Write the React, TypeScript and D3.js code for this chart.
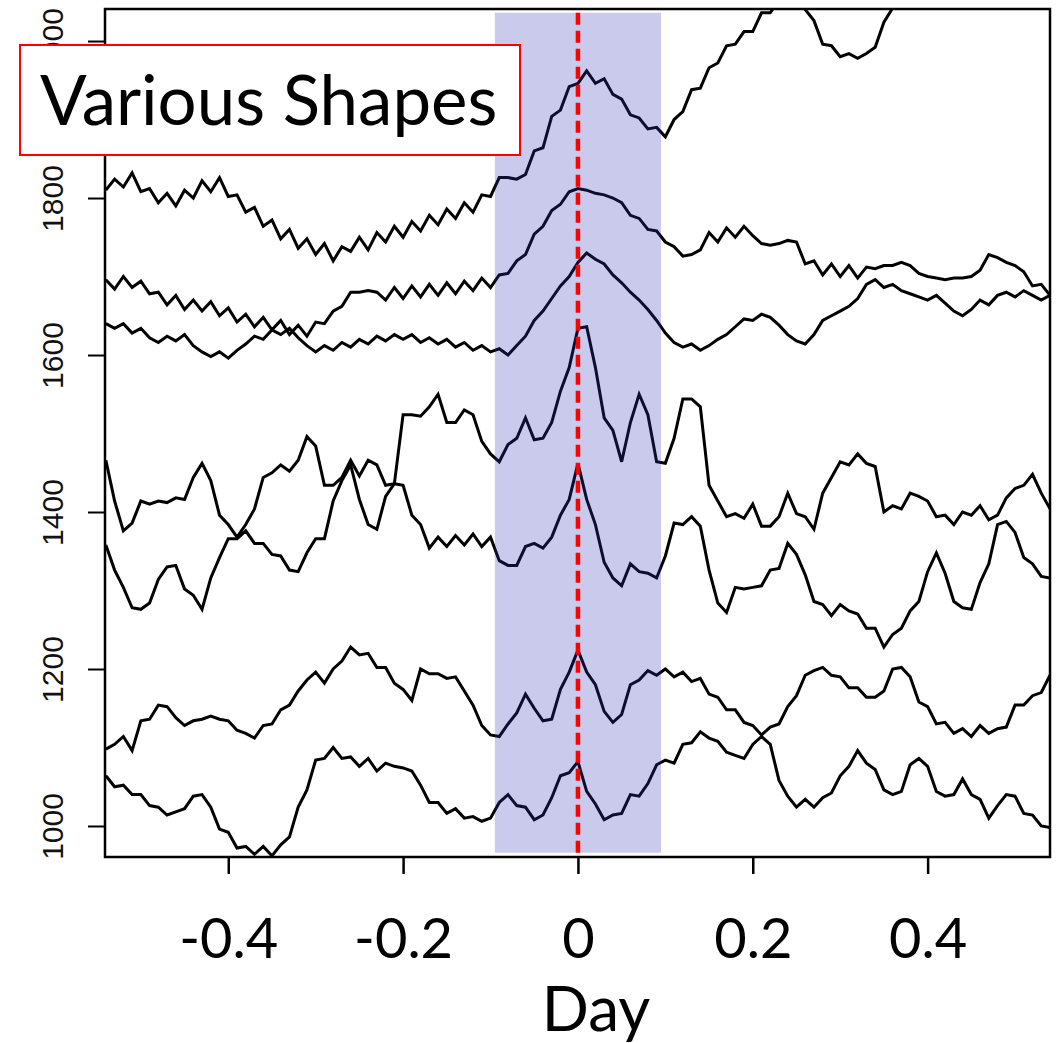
import React, { useRef, useEffect } from 'react';
import { select, scaleLinear, axisLeft, axisBottom, line, range } from 'd3';

// sampling grid of the traces (days)
const dayStart = -0.54;
const dayStep = 0.01;
const dayCount = 109;

// traces (top to bottom at day 0)
const seriesA = [1810,1824,1814,1832,1808,1812,1794,1806,1790,1810,1800,1822,1808,1826,1802,1804,1782,1788,1764,1772,1748,1760,1736,1748,1728,1742,1720,1738,1732,1750,1734,1756,1744,1764,1750,1770,1758,1778,1766,1786,1774,1794,1782,1804,1802,1826,1826,1824,1830,1860,1864,1904,1912,1942,1946,1962,1946,1952,1932,1926,1906,1902,1888,1890,1878,1900,1910,1938,1940,1966,1972,1994,1996,2012,2012,2036,2036,2052,2048,2054,2040,2026,1996,1994,1980,1984,1978,1984,1992,2024,2042,2074,null,null,null,null,null,null,null,null,null,null,null,null,null,null,null,null,null];
const seriesB = [1696,1684,1700,1686,1694,1678,1680,1664,1676,1658,1670,1656,1668,1650,1660,1642,1652,1636,1648,1632,1644,1626,1638,1624,1642,1640,1656,1662,1680,1680,1682,1680,1670,1686,1672,1688,1674,1690,1676,1692,1678,1694,1682,1698,1686,1702,1704,1720,1728,1754,1764,1784,1792,1808,1812,1810,1806,1804,1800,1794,1778,1774,1760,1758,1744,1738,1726,1728,1734,1756,1744,1762,1750,1764,1752,1742,1740,1742,1746,1744,1716,1720,1702,1716,1700,1714,1698,1712,1710,1714,1714,1718,1714,1704,1700,1698,1696,1698,1698,1700,1708,1728,1724,1718,1714,1706,1688,1690,1676];
const seriesC = [1640,1634,1640,1628,1634,1622,1616,1624,1618,1626,1612,1604,1598,1604,1596,1606,1614,1624,1620,1632,1626,1634,1622,1612,1604,1612,1606,1616,1610,1620,1614,1624,1618,1626,1620,1626,1616,1622,1614,1620,1610,1616,1606,1612,1604,1608,1600,1612,1624,1644,1656,1672,1688,1700,1718,1730,1722,1716,1702,1692,1680,1670,1658,1644,1628,1616,1610,1614,1606,1612,1620,1626,1636,1646,1644,1652,1648,1638,1626,1618,1614,1626,1644,1650,1656,1662,1672,1690,1696,1686,1690,1682,1678,1674,1670,1676,1666,1656,1650,1658,1670,1664,1676,1680,1674,1682,1676,1670,1676];
const seriesD = [1466,1414,1376,1386,1414,1410,1414,1412,1418,1416,1444,1462,1440,1396,1384,1368,1384,1404,1444,1450,1460,1452,1466,1496,1484,1434,1434,1444,1466,1446,1466,1460,1434,1436,1524,1524,1522,1534,1550,1514,1514,1530,1524,1490,1474,1464,1486,1494,1520,1492,1494,1514,1554,1584,1634,1636,1584,1520,1504,1464,1514,1550,1524,1464,1462,1494,1544,1544,1534,1434,1414,1394,1398,1392,1410,1382,1382,1394,1424,1398,1394,1378,1424,1444,1464,1460,1474,1462,1458,1400,1408,1404,1424,1420,1414,1394,1396,1384,1400,1396,1408,1390,1396,1418,1430,1434,1448,1424,1404];
const seriesE = [1358,1326,1304,1278,1276,1284,1314,1330,1332,1302,1294,1276,1316,1342,1366,1366,1376,1360,1360,1346,1344,1326,1324,1348,1366,1366,1414,1440,1460,1416,1384,1378,1420,1436,1434,1396,1384,1354,1368,1356,1370,1358,1372,1356,1368,1338,1332,1332,1356,1360,1354,1368,1396,1416,1462,1416,1384,1336,1316,1306,1334,1324,1322,1316,1344,1386,1384,1394,1382,1326,1284,1272,1304,1302,1304,1306,1326,1328,1360,1346,1320,1286,1282,1268,1282,1274,1270,1252,1252,1228,1244,1252,1274,1286,1324,1348,1322,1286,1278,1276,1310,1334,1384,1388,1374,1342,1334,1318,1316];
const seriesF = [1098,1104,1114,1096,1134,1136,1154,1152,1138,1128,1134,1136,1140,1136,1134,1122,1118,1112,1128,1130,1148,1154,1172,1186,1196,1182,1200,1210,1228,1218,1220,1202,1202,1182,1174,1160,1200,1194,1194,1188,1190,1172,1154,1128,1116,1114,1130,1144,1168,1150,1134,1136,1174,1196,1224,1196,1180,1146,1132,1142,1180,1186,1198,1192,1200,1190,1196,1184,1188,1168,1164,1148,1148,1132,1128,1116,1126,1130,1152,1166,1192,1198,1202,1192,1190,1176,1176,1164,1164,1172,1200,1202,1190,1158,1152,1130,1132,1118,1124,1114,1128,1118,1124,1126,1154,1154,1166,1170,1192];
const seriesG = [1064,1050,1052,1040,1040,1026,1024,1014,1018,1022,1038,1040,1024,996,992,972,974,964,974,962,976,986,1024,1046,1084,1086,1100,1086,1088,1076,1086,1070,1080,1076,1074,1070,1052,1030,1030,1016,1022,1010,1012,1006,1010,1030,1040,1026,1024,1008,1014,1036,1064,1068,1082,1044,1028,1008,1014,1016,1040,1038,1054,1078,1084,1080,1104,1106,1120,1112,1108,1094,1090,1086,1104,1114,1104,1058,1038,1024,1034,1024,1036,1042,1064,1076,1096,1080,1072,1046,1040,1044,1078,1086,1076,1044,1038,1040,1060,1040,1034,1010,1026,1040,1038,1016,1014,1000,998];

const yTicks = [1000, 1200, 1400, 1600, 1800, 2000];
const xTicks = [-0.4, -0.2, 0, 0.2, 0.4];
const xTickLabels = ['-0.4', '-0.2', '0', '0.2', '0.4'];
const shadeDays = [-0.095, 0.095];
const shadeValues = [966, 2036];
const eventDay = 0;
const titleText = 'Various Shapes';
const xTitle = 'Day';

const width = 1061;
const height = 1043;
const margin = { top: 9, right: 11, bottom: 186, left: 105 };

const App = () => {
  const svgRef = useRef<SVGSVGElement>(null);

  useEffect(() => {
    const innerRight = width - margin.right;
    const innerBottom = height - margin.bottom;

    const days = range(dayCount).map(i => dayStart + i * dayStep);

    const xScale = scaleLinear().domain([-0.541, 0.54]).range([margin.left, innerRight]);
    const yScale = scaleLinear().domain([960.5, 2040.8]).range([innerBottom, margin.top]);

    const svgEl = select(svgRef.current);
    svgEl.selectAll('*').remove();

    svgEl.append('defs')
      .append('clipPath')
      .attr('id', 'plot-clip')
      .append('rect')
      .attr('x', margin.left)
      .attr('y', margin.top)
      .attr('width', innerRight - margin.left)
      .attr('height', innerBottom - margin.top);

    // traces
    const trace = line<number | null>()
      .defined(v => v != null)
      .x((_, i) => xScale(days[i]))
      .y(v => yScale(v as number));

    svgEl.append('g')
      .attr('clip-path', 'url(#plot-clip)')
      .selectAll('path')
      .data([seriesA, seriesB, seriesC, seriesD, seriesE, seriesF, seriesG])
      .enter()
      .append('path')
      .attr('fill', 'none')
      .attr('stroke', '#000')
      .attr('stroke-width', 3)
      .attr('stroke-linejoin', 'miter')
      .attr('d', d => trace(d));

    // shaded window over the traces
    svgEl.append('rect')
      .attr('x', xScale(shadeDays[0]))
      .attr('y', yScale(shadeValues[1]))
      .attr('width', xScale(shadeDays[1]) - xScale(shadeDays[0]))
      .attr('height', yScale(shadeValues[0]) - yScale(shadeValues[1]))
      .attr('fill', 'rgb(46, 52, 180)')
      .attr('fill-opacity', 0.26);

    // event line
    svgEl.append('line')
      .attr('x1', xScale(eventDay))
      .attr('x2', xScale(eventDay))
      .attr('y1', yScale(shadeValues[1]))
      .attr('y2', yScale(shadeValues[0]))
      .attr('stroke', '#ff0000')
      .attr('stroke-width', 4.5)
      .attr('stroke-dasharray', '12 6');

    // frame
    svgEl.append('rect')
      .attr('x', margin.left)
      .attr('y', margin.top)
      .attr('width', innerRight - margin.left)
      .attr('height', innerBottom - margin.top)
      .attr('fill', 'none')
      .attr('stroke', '#000')
      .attr('stroke-width', 2.5);

    // y axis
    const yAxisGroup = svgEl.append('g')
      .attr('transform', `translate(${margin.left}, 0)`)
      .call(axisLeft(yScale).tickValues(yTicks).tickSize(17).tickFormat(d => String(d)));

    yAxisGroup.select('.domain').remove();
    yAxisGroup.selectAll('line').attr('stroke', '#000').attr('stroke-width', 2);
    yAxisGroup.selectAll('text')
      .attr('x', null)
      .attr('dy', null)
      .attr('transform', 'translate(-42, 0) rotate(-90)')
      .style('text-anchor', 'middle')
      .attr('fill', '#111')
      .style('font-family', '"Liberation Sans", Arial, sans-serif')
      .style('font-size', '30px');

    // x axis
    const xAxisGroup = svgEl.append('g')
      .attr('transform', `translate(0, ${innerBottom})`)
      .call(axisBottom(xScale).tickValues(xTicks).tickSize(17).tickFormat((_, i) => xTickLabels[i]));

    xAxisGroup.select('.domain').remove();
    xAxisGroup.selectAll('line').attr('stroke', '#000').attr('stroke-width', 2.5);
    xAxisGroup.selectAll('text')
      .attr('y', 101)
      .attr('dy', null)
      .attr('fill', '#000')
      .style('font-family', 'Lato, "Open Sans", sans-serif')
      .style('font-size', '56px');

    // x-axis title
    svgEl.append('text')
      .attr('x', 596)
      .attr('y', 1031)
      .style('text-anchor', 'middle')
      .style('font-family', 'Lato, "Open Sans", sans-serif')
      .style('font-size', '62px')
      .text(xTitle);

    // title box
    const titleGroup = svgEl.append('g');
    titleGroup.append('rect')
      .attr('x', 20)
      .attr('y', 45)
      .attr('width', 500)
      .attr('height', 110)
      .attr('fill', '#fff')
      .attr('stroke', '#ff0000')
      .attr('stroke-width', 2);
    titleGroup.append('text')
      .attr('x', 40)
      .attr('y', 125)
      .style('font-family', 'Lato, "Open Sans", sans-serif')
      .style('font-size', '69px')
      .attr('fill', '#000')
      .text(titleText);
  }, []);

  return (
    <svg
      ref={svgRef}
      width={width}
      height={height}
      style={{ position: 'absolute', left: 0, top: 0, background: '#fff' }}
    />
  );
};

export default App;
